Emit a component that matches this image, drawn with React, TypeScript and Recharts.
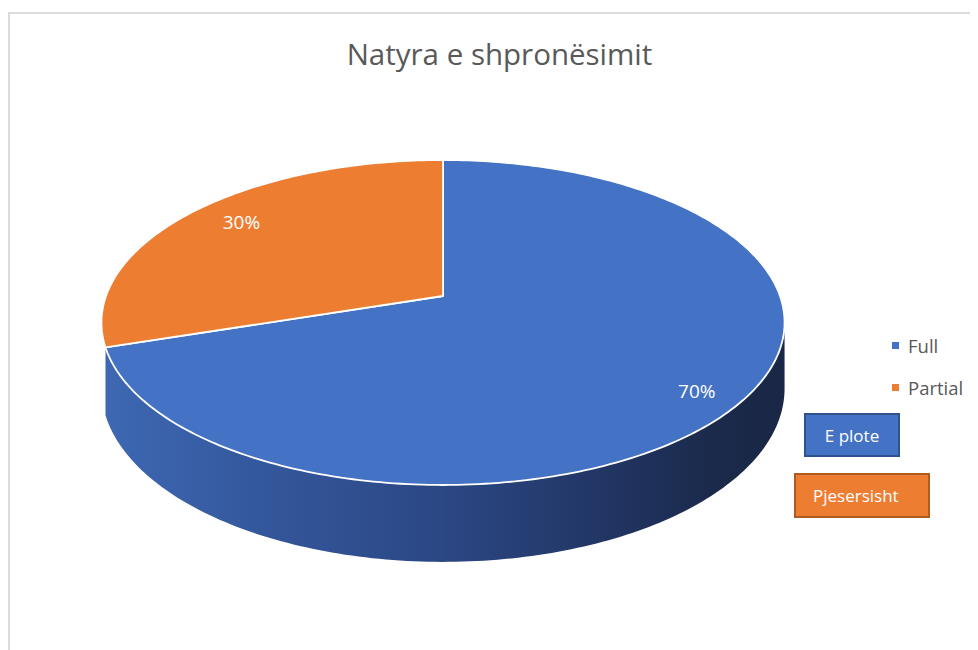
import { Legend, Pie, PieChart } from 'recharts';

// Excel-style 3D pie: "Natyra e shpronësimit"
const SLICES = ['Full', 'Partial'];
const VALUES = [70, 30];
const BOX_LABELS = ['E plote', 'Pjesersisht'];

const TOP_COLORS = ['#4472C4', '#ED7D31'];
const SIDE_COLORS = ['url(#sideBlue)', '#b35c20'];
const BOX_BORDERS = ['#2F528F', '#AE5A21'];

const FONT = '"Open Sans", "Noto Sans", sans-serif';
const TEXT = '#595959';

// projection of the flat pie into a tilted, slightly perspective disc
const TILT = 0.4694;
const PERSP = 0.163;
const DEPTH = 0.191;
// side wall faces the viewer where sin(angle) < -PERSP
const FACE = (Math.asin(PERSP) * 180) / Math.PI;
// walls thinner than this (degrees) are dropped, like Excel does at the rim
const MIN_WALL = 10;

const data = SLICES.map((name, i) => ({ name, value: VALUES[i] }));

function project(cx: number, cy: number, r: number, deg: number, f: number, drop: number, tilt = TILT) {
  const t = (deg * Math.PI) / 180;
  const u = f * Math.cos(t);
  const v = f * Math.sin(t);
  const s = 1 / (1 + PERSP * v);
  return [cx + r * u * s, cy - r * tilt * v * s + drop * r * DEPTH * s];
}

function arc(cx: number, cy: number, r: number, a: number, b: number, drop: number) {
  const n = Math.max(2, Math.ceil(Math.abs(b - a)));
  const pts: number[][] = [];
  for (let i = 0; i <= n; i++) pts.push(project(cx, cy, r, a + ((b - a) * i) / n, 1, drop));
  return pts;
}

const toPath = (pts: number[][]) =>
  pts.map((p, i) => `${i ? 'L' : 'M'}${p[0].toFixed(2)},${p[1].toFixed(2)}`).join(' ');

function renderSlice(props: any) {
  const { cx, cy, outerRadius, startAngle, endAngle, midAngle, percent, index } = props;
  const lo = Math.min(startAngle, endAngle);
  const hi = Math.max(startAngle, endAngle);

  // visible wall pieces
  const walls: string[] = [];
  for (const k of [-360, 0, 360]) {
    const a = Math.max(lo, -180 + FACE + k);
    const b = Math.min(hi, -FACE + k);
    if (b - a > MIN_WALL) {
      const top = arc(cx, cy, outerRadius, a, b, 0);
      const bottom = arc(cx, cy, outerRadius, b, a, 1);
      walls.push(toPath([...top, ...bottom]) + ' Z');
    }
  }

  const face = toPath([[cx, cy], ...arc(cx, cy, outerRadius, startAngle, endAngle, 0)]) + ' Z';
  const [lx, ly] = project(cx, cy, outerRadius, midAngle, 0.83, 0, TILT * 1.09);

  return (
    <g key={`slice-${index}`}>
      {walls.map((d, j) => (
        <path key={j} d={d} fill={SIDE_COLORS[index]} stroke="none" />
      ))}
      <path d={face} fill={TOP_COLORS[index]} stroke="#ffffff" strokeWidth={1.8} strokeLinejoin="round" />
      <text
        x={lx + 8}
        y={ly + 4}
        fill="#ffffff"
        fontFamily={FONT}
        fontSize={19}
        textAnchor="middle"
        dominantBaseline="central"
      >
        {`${Math.round(percent * 100)}%`}
      </text>
    </g>
  );
}

function renderLegend(props: any) {
  const payload = props.payload ?? [];
  return (
    <div style={{ fontFamily: FONT, fontSize: 18.5, color: TEXT }}>
      {payload.map((entry: any, i: number) => (
        <div key={String(entry.value)} style={{ display: 'flex', alignItems: 'center', height: 42 }}>
          <span
            style={{ display: 'inline-block', width: 7, height: 7, background: TOP_COLORS[i], marginRight: 9 }}
          />
          <span>{entry.value}</span>
        </div>
      ))}
    </div>
  );
}

const BOXES = [
  { left: 796, top: 405, width: 96, height: 44, center: true },
  { left: 786, top: 465, width: 136, height: 45, center: false },
];

export default function App() {
  return (
    <div style={{ position: 'relative', width: 970, height: 642, fontFamily: FONT }}>
      <div
        style={{
          position: 'absolute',
          left: 0,
          top: 4,
          width: 990,
          height: 700,
          border: '2px solid #dcdcdc',
          boxSizing: 'border-box',
        }}
      />
      <div
        style={{
          position: 'absolute',
          left: 0,
          width: 983,
          top: 31,
          textAlign: 'center',
          fontSize: 29.5,
          lineHeight: '29px',
          color: TEXT,
        }}
      >
        Natyra e shpronësimit
      </div>

      <div style={{ position: 'absolute', left: 0, top: 0 }}>
        <svg width={0} height={0} style={{ position: 'absolute' }}>
          <defs>
            <linearGradient id="sideBlue" gradientUnits="userSpaceOnUse" x1={98} y1={0} x2={772} y2={0}>
              <stop offset="0%" stopColor="#3e68b3" />
              <stop offset="25%" stopColor="#33569a" />
              <stop offset="50%" stopColor="#2b4784" />
              <stop offset="75%" stopColor="#213562" />
              <stop offset="90%" stopColor="#1b2a4b" />
              <stop offset="100%" stopColor="#1a2746" />
            </linearGradient>
          </defs>
        </svg>
        <PieChart width={970} height={642} margin={{ top: 0, right: 0, bottom: 0, left: 0 }}>
          <Pie
            data={data}
            dataKey="value"
            nameKey="name"
            cx={435}
            cy={288}
            outerRadius={337}
            startAngle={90}
            endAngle={-270}
            fill="transparent"
            stroke="none"
            label={renderSlice}
            labelLine={false}
            isAnimationActive={false}
          />
          <Legend
            layout="vertical"
            align="right"
            verticalAlign="middle"
            content={renderLegend}
            wrapperStyle={{ left: 884, top: 316, width: 90 }}
          />
        </PieChart>
      </div>

      {BOXES.map((b, i) => (
        <div
          key={BOX_LABELS[i]}
          style={{
            position: 'absolute',
            left: b.left,
            top: b.top,
            width: b.width,
            height: b.height,
            boxSizing: 'border-box',
            background: TOP_COLORS[i],
            border: `2px solid ${BOX_BORDERS[i]}`,
            color: '#ffffff',
            fontSize: 17,
            display: 'flex',
            alignItems: 'center',
            justifyContent: b.center ? 'center' : 'flex-start',
            paddingLeft: b.center ? 0 : 17,
          }}
        >
          {BOX_LABELS[i]}
        </div>
      ))}
    </div>
  );
}
